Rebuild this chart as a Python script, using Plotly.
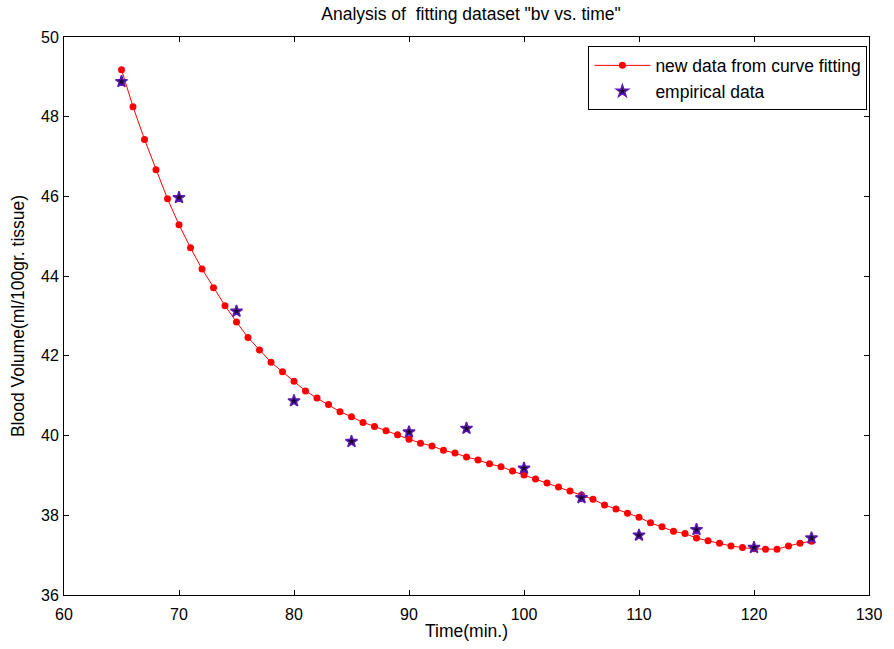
import plotly.graph_objects as go

time_fit = [65, 66, 67, 68, 69, 70, 71, 72, 73, 74, 75, 76, 77, 78, 79, 80,
            81, 82, 83, 84, 85, 86, 87, 88, 89, 90, 91, 92, 93, 94, 95, 96,
            97, 98, 99, 100, 101, 102, 103, 104, 105, 106, 107, 108, 109, 110,
            111, 112, 113, 114, 115, 116, 117, 118, 119, 120, 121, 122, 123, 124, 125]
bv_fit = [49.18, 48.25, 47.43, 46.67, 45.94, 45.29, 44.71, 44.18, 43.71, 43.26,
          42.85, 42.46, 42.15, 41.84, 41.60, 41.36, 41.12, 40.94, 40.78, 40.60,
          40.47, 40.33, 40.23, 40.12, 40.02, 39.91, 39.81, 39.74, 39.63, 39.56,
          39.46, 39.39, 39.29, 39.22, 39.11, 39.01, 38.91, 38.81, 38.71, 38.61,
          38.51, 38.40, 38.26, 38.16, 38.05, 37.95, 37.81, 37.71, 37.60, 37.54,
          37.43, 37.36, 37.30, 37.23, 37.19, 37.16, 37.15, 37.15, 37.23, 37.30, 37.35]

time_emp = [65, 70, 75, 80, 85, 90, 95, 100, 105, 110, 115, 120, 125]
bv_emp = [48.88, 45.97, 43.12, 40.87, 39.85, 40.09, 40.18, 39.18, 38.44, 37.50, 37.64, 37.19, 37.43]

x_ticks = [60, 70, 80, 90, 100, 110, 120, 130]
y_ticks = [36, 38, 40, 42, 44, 46, 48, 50]

FONT = "Liberation Sans, Arial, sans-serif"
TXT = 17.5

fig = go.Figure()
fig.add_trace(go.Scatter(
    x=time_fit, y=bv_fit, mode="lines+markers",
    name="new data from curve fitting",
    line=dict(color="#ff0000", width=1),
    marker=dict(color="#ff0000", size=7, symbol="circle"),
))
fig.add_trace(go.Scatter(
    x=time_emp, y=bv_emp, mode="markers",
    name="empirical data",
    marker=dict(color="#1a0030", size=9, symbol="star",
                line=dict(color="#5a1ab0", width=1.5)),
))

axis_common = dict(
    showgrid=False, zeroline=False, showline=True, linecolor="black", linewidth=1,
    mirror="ticks", ticks="inside", ticklen=5, tickcolor="black", tickwidth=1,
    tickfont=dict(family=FONT, size=16, color="black"),
)

fig.update_layout(
    width=894, height=649,
    margin=dict(l=64, r=18, t=37, b=53),
    paper_bgcolor="white", plot_bgcolor="white",
    font=dict(family=FONT, size=16, color="black"),
    title=dict(text='Analysis of  fitting dataset "bv vs. time"', x=(471 / 894), xanchor="center",
               y=1 - 14 / 649, yanchor="middle",
               font=dict(family=FONT, size=TXT, color="black")),
    xaxis=dict(range=[60, 130], tickvals=x_ticks, ticklabelstandoff=5,
               title=dict(text="Time(min.)", standoff=2,
                          font=dict(family=FONT, size=TXT, color="black")),
               **axis_common),
    yaxis=dict(range=[36, 50], tickvals=y_ticks, ticklabelstandoff=1,
               title=dict(text="Blood Volume(ml/100gr. tissue)", standoff=11,
                          font=dict(family=FONT, size=TXT, color="black")),
               **axis_common),
    legend=dict(x=0.998, y=0.983, xanchor="right", yanchor="top",
                bgcolor="white", bordercolor="black", borderwidth=1,
                font=dict(family=FONT, size=TXT, color="black"),
                itemwidth=56, tracegroupgap=0),
    showlegend=True,
)

fig.write_html("out.html")
